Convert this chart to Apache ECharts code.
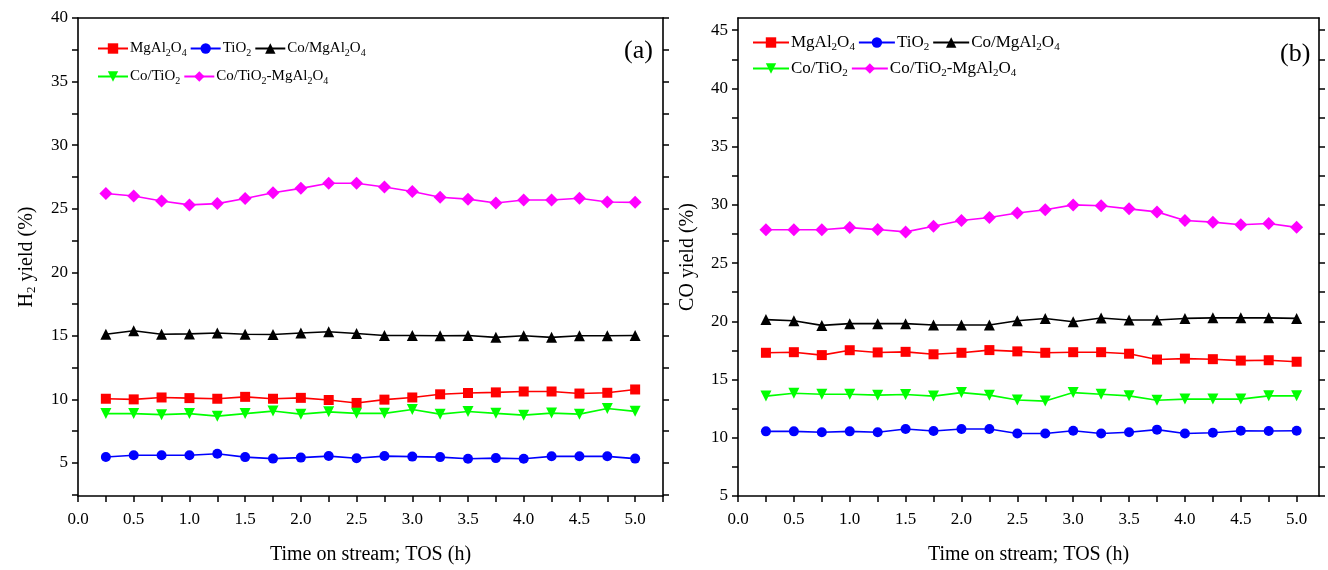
<!DOCTYPE html>
<html>
<head>
<meta charset="utf-8">
<script src="https://cdn.jsdelivr.net/npm/echarts@6/dist/echarts.min.js"></script>
<style>html,body{margin:0;padding:0;background:#fff;}#c{width:1328px;height:570px;}</style>
</head>
<body>
<div id="c"></div>
<script>
// ---- data ----
const tos = [0.25,0.5,0.75,1.0,1.25,1.5,1.75,2.0,2.25,2.5,2.75,3.0,3.25,3.5,3.75,4.0,4.25,4.5,4.75,5.0];
const seriesNames = ['MgAl2O4','TiO2','Co/MgAl2O4','Co/TiO2','Co/TiO2-MgAl2O4'];
// H2 yield (%)
const h2_MgAl2O4 = [10.05,10.0,10.15,10.1,10.05,10.2,10.05,10.12,9.95,9.72,9.98,10.15,10.4,10.5,10.55,10.62,10.62,10.46,10.52,10.78];
const h2_TiO2 = [5.47,5.6,5.6,5.6,5.72,5.46,5.34,5.42,5.54,5.37,5.54,5.5,5.46,5.33,5.38,5.33,5.52,5.52,5.52,5.34];
const h2_CoMgAl2O4 = [15.12,15.4,15.12,15.15,15.22,15.12,15.1,15.22,15.32,15.18,15.02,15.02,15.0,15.02,14.88,15.0,14.88,15.0,15.0,15.02];
const h2_CoTiO2 = [8.88,8.88,8.8,8.88,8.68,8.88,9.08,8.84,9.02,8.9,8.9,9.2,8.84,9.05,8.9,8.76,8.92,8.84,9.28,9.06];
const h2_CoTiO2MgAl2O4 = [26.2,26.0,25.6,25.3,25.4,25.8,26.25,26.6,27.0,27.0,26.7,26.35,25.9,25.75,25.45,25.68,25.68,25.82,25.53,25.5];
// CO yield (%)
const co_MgAl2O4 = [17.3,17.35,17.1,17.52,17.33,17.38,17.17,17.3,17.53,17.42,17.3,17.35,17.35,17.22,16.72,16.8,16.75,16.63,16.66,16.53];
const co_TiO2 = [10.55,10.55,10.47,10.55,10.47,10.75,10.58,10.75,10.75,10.37,10.37,10.6,10.37,10.47,10.7,10.37,10.43,10.6,10.58,10.6];
const co_CoMgAl2O4 = [20.15,20.05,19.65,19.8,19.8,19.8,19.68,19.68,19.68,20.05,20.25,19.97,20.28,20.12,20.12,20.25,20.3,20.3,20.3,20.25];
const co_CoTiO2 = [13.58,13.82,13.74,13.74,13.66,13.72,13.58,13.88,13.66,13.25,13.15,13.88,13.74,13.6,13.22,13.32,13.32,13.32,13.6,13.6];
const co_CoTiO2MgAl2O4 = [27.86,27.86,27.86,28.05,27.88,27.68,28.16,28.66,28.92,29.3,29.58,30.0,29.92,29.66,29.4,28.66,28.52,28.3,28.4,28.07];
// tick values
const xLabelVals = [0,0.5,1.0,1.5,2.0,2.5,3.0,3.5,4.0,4.5,5.0];
const xTickValsA = [0,0.25,0.5,0.75,1.0,1.25,1.5,1.75,2.0,2.25,2.5,2.75,3.0,3.25,3.5,3.75,4.0,4.25,4.5,4.75,5.0,5.25];
const xTickValsB = [0,0.25,0.5,0.75,1.0,1.25,1.5,1.75,2.0,2.25,2.5,2.75,3.0,3.25,3.5,3.75,4.0,4.25,4.5,4.75,5.0];
const yLabelsH2 = [5,10,15,20,25,30,35,40];
const yTicksH2 = [2.5,5,7.5,10,12.5,15,17.5,20,22.5,25,27.5,30,32.5,35,37.5,40];
const yLabelsCO = [5,10,15,20,25,30,35,40,45];
const yTicksCO = [5,7.5,10,12.5,15,17.5,20,22.5,25,27.5,30,32.5,35,37.5,40,42.5,45];

// ---- styles ----
const FONT = 'Liberation Serif';
const colors = ['#ff0000','#0000ff','#000000','#00ff00','#ff00ff'];
const symbols = ['rect','circle','triangle','triangle','diamond'];
const symSizes = [10,10,11,11,13];
const symRot = [0,0,0,180,0];
function chem(name){
  return name.replace(/Al2/g,'Al{s|2}').replace(/O2/g,'O{s|2}').replace(/O4/g,'O{s|4}');
}
const h2Sets = [h2_MgAl2O4,h2_TiO2,h2_CoMgAl2O4,h2_CoTiO2,h2_CoTiO2MgAl2O4];
const coSets = [co_MgAl2O4,co_TiO2,co_CoMgAl2O4,co_CoTiO2,co_CoTiO2MgAl2O4];

function mkSeries(sets, idx){
  return sets.map((vals,i)=>({
    name: seriesNames[i], type:'line', xAxisIndex: idx*2, yAxisIndex: idx*2,
    data: tos.map((t,k)=>[t, vals[k]]),
    symbol: symbols[i], symbolSize: symSizes[i], symbolRotate: symRot[i],
    lineStyle: {color: colors[i], width: 1.6},
    itemStyle: {color: colors[i]},
    z: 2 + i, animation: false
  }));
}
const axisLineStyle = {show: true, onZero: false, lineStyle: {color:'#000', width: 1.6}};
function xAxes(gi, xmax, ticks){
  return [{
    type:'value', gridIndex: gi, min: 0, max: xmax, position:'bottom',
    axisLine: axisLineStyle,
    axisTick: {show:true, inside:false, length:6, lineStyle:{color:'#000',width:1.5}, customValues: ticks},
    axisLabel: {fontFamily: FONT, fontSize: 17, color:'#000', margin: 15, customValues: xLabelVals, formatter: v => v.toFixed(1)},
    splitLine: {show:false},
    name: 'Time on stream; TOS (h)', nameLocation:'middle', nameGap: 49,
    nameTextStyle: {fontFamily: FONT, fontSize: 20, color:'#000'}
  },{
    type:'value', gridIndex: gi, min: 0, max: xmax, position:'top',
    axisLine: axisLineStyle, axisTick:{show:false}, axisLabel:{show:false}, splitLine:{show:false}
  }];
}
function yAxes(gi, min, max, labels, ticks, nameRich){
  return [{
    type:'value', gridIndex: gi, min: min, max: max, position:'left',
    axisLine: axisLineStyle,
    axisTick: {show:true, inside:false, length:6, lineStyle:{color:'#000',width:1.5}, customValues: ticks},
    axisLabel: {fontFamily: FONT, fontSize: 17, color:'#000', margin: 10, customValues: labels},
    splitLine: {show:false},
    name: nameRich, nameLocation:'middle', nameGap: 40,
    nameTextStyle: {fontFamily: FONT, fontSize: 20, color:'#000', rich: {
      t:{fontFamily: FONT, fontSize: 20, color:'#000'},
      s:{fontFamily: FONT, fontSize: 13, color:'#000', padding:[10,0,0,0]}
    }}
  },{
    type:'value', gridIndex: gi, min: min, max: max, position:'right',
    axisLine: axisLineStyle,
    axisTick: {show:true, inside:false, length:6, lineStyle:{color:'#000',width:1.5}, customValues: ticks},
    axisLabel: {show:false}, splitLine:{show:false}
  }];
}
function legendBlock(names, left, top, fs, iw){
  return {
    data: names, left: left, top: top, orient:'horizontal',
    itemWidth: iw, itemHeight: 13, itemGap: 3, selectedMode: false,
    formatter: n => chem(n),
    textStyle: {fontFamily: FONT, fontSize: fs, color:'#000', padding:[0,0,0,-3],
      rich: {s: {fontFamily: FONT, fontSize: Math.round(fs*0.66), color:'#000', padding:[Math.round(fs*0.6),0,0,0]}}}
  };
}

const option = {
  backgroundColor: '#fff',
  animation: false,
  grid: [
    {left: 78, top: 18, width: 585, height: 478, show:false},
    {left: 738, top: 18, width: 581, height: 478, show:false}
  ],
  xAxis: [...xAxes(0, 5.25, xTickValsA), ...xAxes(1, 5.2, xTickValsB)],
  yAxis: [
    ...yAxes(0, 2.4, 40, yLabelsH2, yTicksH2, '{t|H}{s|2}{t| yield (%)}'),
    ...yAxes(1, 5, 46.05, yLabelsCO, yTicksCO, '{t|CO yield (%)}')
  ],
  legend: [
    legendBlock(['MgAl2O4','TiO2','Co/MgAl2O4'], 92, 36, 15, 30),
    legendBlock(['Co/TiO2','Co/TiO2-MgAl2O4'], 92, 64, 15, 30),
    legendBlock(['MgAl2O4','TiO2','Co/MgAl2O4'], 747, 29, 17, 36),
    legendBlock(['Co/TiO2','Co/TiO2-MgAl2O4'], 747, 55, 17, 36)
  ],
  title: [
    {text:'(a)', left: 619, top: 33, textStyle:{fontFamily: FONT, fontSize: 26, fontWeight:'normal', color:'#000'}},
    {text:'(b)', left: 1275, top: 36, textStyle:{fontFamily: FONT, fontSize: 26, fontWeight:'normal', color:'#000'}}
  ],
  series: [...mkSeries(h2Sets, 0), ...mkSeries(coSets, 1)]
};
const chart = echarts.init(document.getElementById('c'), null, {renderer:'canvas'});
chart.setOption(option);
</script>
</body>
</html>
